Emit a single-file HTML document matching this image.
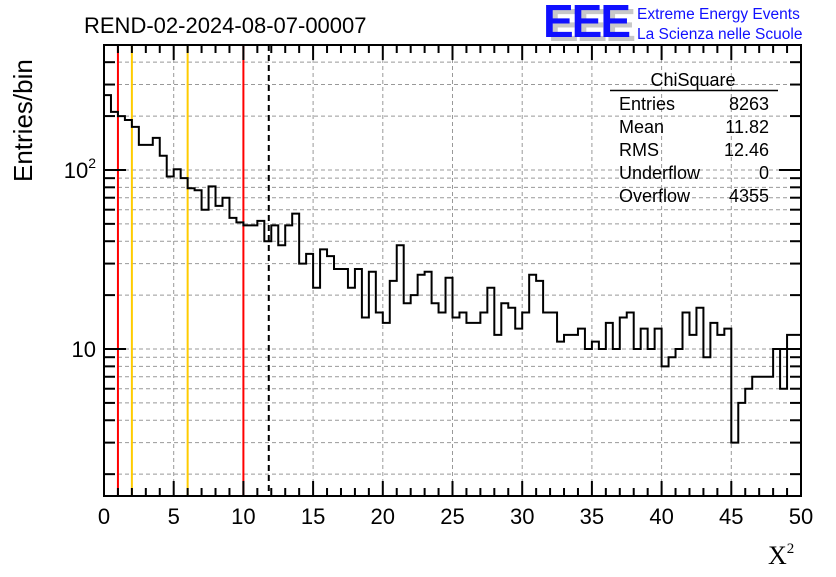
<!DOCTYPE html>
<html><head><meta charset="utf-8"><style>
body{margin:0;background:#fff;}
svg text{font-family:"Liberation Sans",sans-serif;}
</style></head><body>
<svg id="c" width="836" height="572" xmlns="http://www.w3.org/2000/svg">
<rect width="836" height="572" fill="#fff"/>
<g id="grid"></g>
<g id="lines"></g>
<g id="hist"></g>
<g id="axes"></g>
<text x="84" y="33" font-size="22">REND-02-2024-08-07-00007</text>
<g>
<text x="548" y="41" font-size="46" font-weight="bold" fill="#c8c8c8" letter-spacing="-2">EEE</text>
<text x="543" y="37" font-size="46" font-weight="bold" fill="#1010ff" letter-spacing="-2">EEE</text>
<text x="637" y="19" font-size="15.5" fill="#1010ff">Extreme Energy Events</text>
<text x="637" y="39" font-size="15.5" fill="#1010ff">La Scienza nelle Scuole</text>
</g>
<g font-size="18">
<text x="693" y="86" text-anchor="middle">ChiSquare</text>
<line x1="610" y1="90.5" x2="778" y2="90.5" stroke="#000" stroke-width="1.5"/>
<text x="619" y="110">Entries</text><text x="769" y="110" text-anchor="end">8263</text>
<text x="619" y="133">Mean</text><text x="769" y="133" text-anchor="end">11.82</text>
<text x="619" y="156">RMS</text><text x="769" y="156" text-anchor="end">12.46</text>
<text x="619" y="179">Underflow</text><text x="769" y="179" text-anchor="end">0</text>
<text x="619" y="202">Overflow</text><text x="769" y="202" text-anchor="end">4355</text>
</g>
<text x="0" y="0" font-size="26" transform="translate(32,182) rotate(-90)">Entries/bin</text>
<text x="768" y="564" font-size="26" style="font-family:'Liberation Serif',serif">X<tspan font-size="15" dy="-11">2</tspan></text>
</svg>
<script>
const counts=[262,211,200,190,174,138,138,151,120,92,101,90,79,77,60,81,63,70,54,51,49,49,52,40,49,38,49,57,30,34,22,36,33,28,28,22,28,15,27,16,14,24,38,18,20,26,27,18,16,25,15,16,14,14,16,22,12,18,17,13,16,26,24,16,16,11,12,12,13,10,11,10,14,10,15,16,10,13,10,13,8,9,10,16,12,17,9,14,12,13,3,5,6,7,7,7,10,6,12,12];
const xTicks=[0,5,10,15,20,25,30,35,40,45,50];
const yLabels=[{v:10,t:"10",s:""},{v:100,t:"10",s:"2"}];
const refRed=[1,10], refYellow=[2,6], meanVal=11.82;
const X0=104,X1=801,Y0=496,Y1=45,XMIN=0,XMAX=50,LMIN=0.179,LMAX=2.698;
const sx=v=>X0+(v-XMIN)/(XMAX-XMIN)*(X1-X0);
const sy=v=>Y0-(Math.log10(v)-LMIN)/(LMAX-LMIN)*(Y0-Y1);
const NS="http://www.w3.org/2000/svg";
function mk(p,tag,at){const e=document.createElementNS(NS,tag);for(const k in at)e.setAttribute(k,at[k]);p.appendChild(e);return e;}
const grid=document.getElementById('grid'),axes=document.getElementById('axes'),hist=document.getElementById('hist'),lines=document.getElementById('lines');
const yv=[];for(let d=1;d<=100;d*=10)for(let m=1;m<=9;m++){const v=m*d;if(Math.log10(v)>LMIN&&Math.log10(v)<LMAX)yv.push(v);}
yv.forEach(v=>{const y=sy(v);
 const g=mk(grid,'line',{x1:X0,x2:X1,y1:y,y2:y,stroke:'#999','stroke-dasharray':'4,3','stroke-width':1});
 
 
 const maj=(v===10||v===100),L=maj?22:11;
 mk(axes,'line',{x1:X0,x2:X0+L,y1:y,y2:y,stroke:'#000','stroke-width':2});
 mk(axes,'line',{x1:X1,x2:X1-L,y1:y,y2:y,stroke:'#000','stroke-width':2});
});
xTicks.forEach(v=>{const x=sx(v);
 if(v>XMIN&&v<XMAX){const g=mk(grid,'line',{x1:x,x2:x,y1:Y1,y2:Y0,stroke:'#999','stroke-dasharray':'4,3','stroke-width':1});
 
 }
 const t=mk(axes,'text',{x:x,y:Y0+28,'font-size':22,'text-anchor':'middle'});t.textContent=v;
 
 
});
for(let v=XMIN;v<=XMAX;v+=1){const x=sx(v),L=(v%5===0)?15:8;
 mk(axes,'line',{x1:x,x2:x,y1:Y0,y2:Y0-L,stroke:'#000','stroke-width':2});
 mk(axes,'line',{x1:x,x2:x,y1:Y1,y2:Y1+L,stroke:'#000','stroke-width':2});}
yLabels.forEach(o=>{const t=mk(axes,'text',{x:X0-8,y:sy(o.v)+8,'font-size':22,'text-anchor':'end'});
 t.textContent=o.t;
 if(o.s){const ts=mk(t,'tspan',{'font-size':14,dy:-10});ts.textContent=o.s;}
 
 });
mk(axes,'rect',{x:X0,y:Y1,width:X1-X0,height:Y0-Y1,fill:'none',stroke:'#000','stroke-width':2});
function vline(v,col,dash,name){const l=mk(lines,'line',{x1:sx(v),x2:sx(v),y1:Y1,y2:Y0,stroke:col,'stroke-width':2});if(dash)l.setAttribute('stroke-dasharray',dash);
 
 }
refRed.forEach(v=>vline(v,'#f00',null,'red-cut-line'));
refYellow.forEach(v=>vline(v,'#fc0',null,'yellow-cut-line'));
vline(meanVal,'#000','6,4','mean-line');
const bw=(XMAX-XMIN)/counts.length;let d=`M${sx(XMIN)},${sy(counts[0])}`;
counts.forEach((c,i)=>{const y=sy(c);d+=` L${sx(XMIN+i*bw)},${y} L${sx(XMIN+(i+1)*bw)},${y}`;});
const p=mk(hist,'path',{d:d,fill:'none',stroke:'#000','stroke-width':2});


</script>
</body></html>
